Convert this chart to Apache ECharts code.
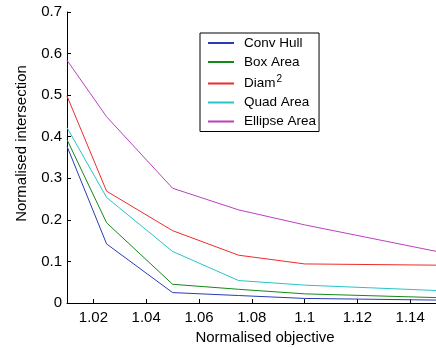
<!DOCTYPE html>
<html>
<head>
<meta charset="utf-8">
<script src="https://cdn.jsdelivr.net/npm/echarts@6/dist/echarts.min.js"></script>
<style>
  html, body { margin: 0; padding: 0; background: #fff; }
  #chart { width: 436px; height: 348px; }
</style>
</head>
<body>
<div id="chart"></div>
<script>
// normalised objective values (x)
const objective = [1.01, 1.025, 1.05, 1.075, 1.1, 1.15];

const seriesNames = ['Conv Hull', 'Box Area', 'Diam²', 'Quad Area', 'Ellipse Area'];
const convHull = [0.377, 0.142, 0.025, 0.018, 0.011, 0.007];
const boxArea = [0.393, 0.193, 0.045, 0.033, 0.022, 0.013];
const diam2 = [0.498, 0.269, 0.174, 0.115, 0.094, 0.091];
const quadArea = [0.422, 0.254, 0.124, 0.054, 0.043, 0.030];
const ellipseArea = [0.584, 0.448, 0.276, 0.224, 0.188, 0.124];

const xTicks = [1.02, 1.04, 1.06, 1.08, 1.1, 1.12, 1.14, 1.16];
const yTicks = [0, 0.1, 0.2, 0.3, 0.4, 0.5, 0.6, 0.7];

const colors = ['#2b3cb0', '#15881a', '#ee2b2b', '#26c4c6', '#bd3fbd'];
const values = [convHull, boxArea, diam2, quadArea, ellipseArea];

const font = 'Liberation Sans, Arial, Helvetica, sans-serif';

const chart = echarts.init(document.getElementById('chart'));

chart.setOption({
  animation: false,
  backgroundColor: '#fff',
  textStyle: { fontFamily: font },
  grid: { left: 67, top: 12, width: 396, height: 291, containLabel: false, outerBoundsMode: 'none' },
  legend: {
    orient: 'vertical',
    left: 200,
    top: 33,
    width: 118,
    padding: [3, 3, 3, 7],
    itemWidth: 26,
    itemHeight: 14,
    itemGap: 5,
    backgroundColor: '#fff',
    borderColor: '#000',
    borderWidth: 1,
    itemStyle: { opacity: 0 },
    data: seriesNames,
    formatter: name => name === 'Diam²' ? 'Diam{sup|2}' : name,
    textStyle: {
      color: '#000',
      fontSize: 13.5,
      fontFamily: font,
      padding: [0, 0, 0, 5],
      rich: {
        sup: { fontSize: 10, fontFamily: font, color: '#000', padding: [0, 0, 9, 1] }
      }
    }
  },
  xAxis: {
    type: 'value',
    min: 1.01,
    max: 1.16,
    name: 'Normalised objective',
    nameLocation: 'middle',
    nameGap: 25,
    nameTextStyle: { color: '#000', fontSize: 15, fontFamily: font },
    axisLine: { onZero: false, lineStyle: { color: '#000', width: 1 } },
    axisTick: { inside: true, length: 4, customValues: xTicks, lineStyle: { color: '#000' } },
    axisLabel: { customValues: xTicks, color: '#000', fontSize: 15, margin: 7, fontFamily: font },
    splitLine: { show: false }
  },
  yAxis: {
    type: 'value',
    min: 0,
    max: 0.7,
    name: 'Normalised intersection',
    nameLocation: 'middle',
    nameGap: 38,
    nameTextStyle: { color: '#000', fontSize: 15, fontFamily: font, padding: [0, 0, 0, 28] },
    axisLine: { show: true, lineStyle: { color: '#000', width: 1 } },
    axisTick: { show: true, inside: true, length: 4, customValues: yTicks, lineStyle: { color: '#000' } },
    axisLabel: { customValues: yTicks, color: '#000', fontSize: 15, margin: 5, fontFamily: font },
    splitLine: { show: false }
  },
  series: seriesNames.map((name, i) => ({
    name,
    type: 'line',
    symbol: 'none',
    color: colors[i],
    lineStyle: { width: 1, color: colors[i] },
    data: objective.map((x, j) => [x, values[i][j]])
  }))
});
</script>
</body>
</html>
